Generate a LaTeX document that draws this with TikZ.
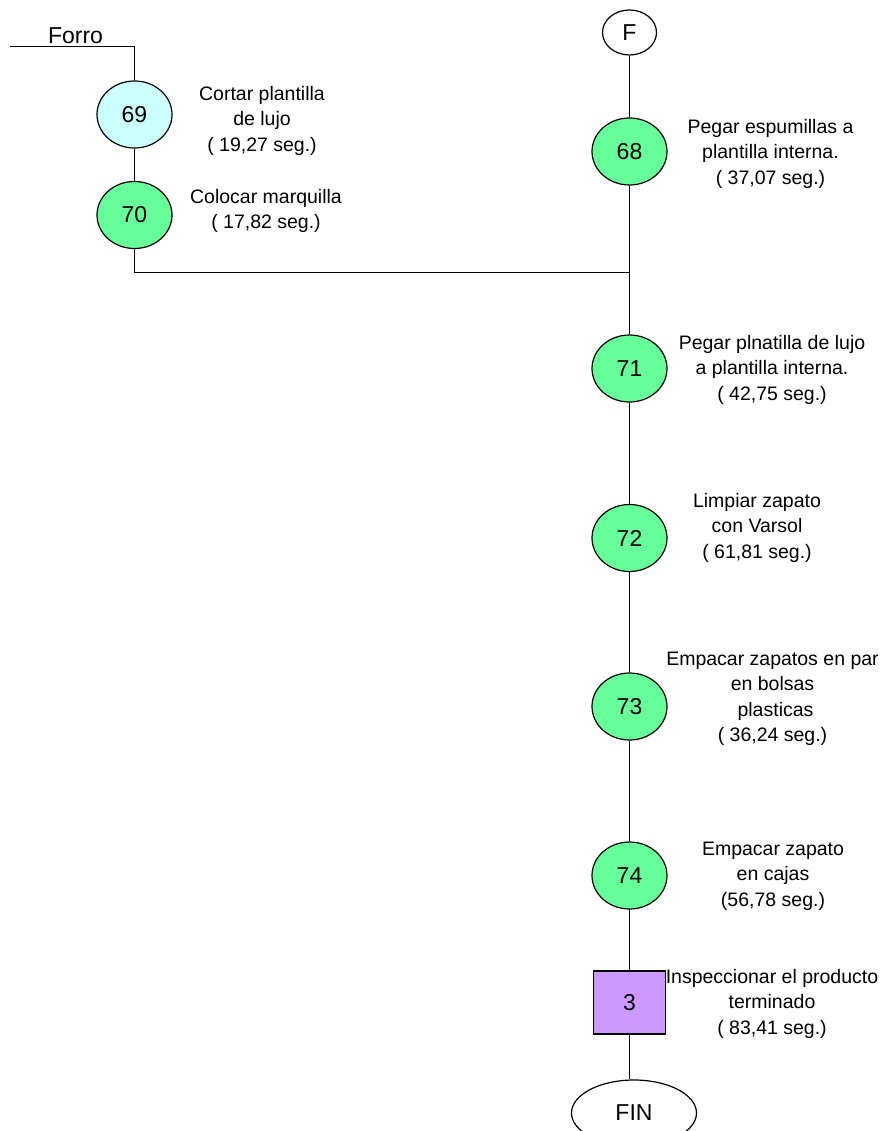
\documentclass[tikz,border=0pt]{standalone}
\usepackage{fontspec}
\setmainfont{Liberation Sans}
\usetikzlibrary{shapes.geometric}
\definecolor{opgreen}{HTML}{66FF99}
\definecolor{opcyan}{HTML}{CCFFFF}
\definecolor{inspurple}{HTML}{CC99FF}
\tikzset{
  flow/.style={line width=1.2pt, draw=black},
  opnode/.style={ellipse, draw=black, line width=1.2pt, fill=opgreen,
    minimum width=75pt, minimum height=67pt, inner sep=0pt,
    font=\fontsize{23}{27}\selectfont},
  termnode/.style={ellipse, draw=black, line width=1.2pt, fill=white,
    inner sep=0pt, font=\fontsize{23}{27}\selectfont},
  insnode/.style={rectangle, draw=black, line width=1.2pt, fill=inspurple,
    minimum width=72pt, minimum height=63pt, inner sep=0pt,
    font=\fontsize{23}{27}\selectfont},
  desc/.style={align=center, anchor=north, inner sep=0pt,
    font=\fontsize{19.5}{25.5}\selectfont}
}
\begin{document}
\begin{tikzpicture}[x=1pt,y=-1pt]
\useasboundingbox (0,0) rectangle (895,1131);

% left branch (Forro)
\coordinate (forroL) at (10,46.7);
\coordinate (forroC) at (134.5,46.7);
\node[anchor=base, inner sep=0pt, font=\fontsize{23}{27}\selectfont] (forro) at (75.5,44) {Forro};
\node[opnode, fill=opcyan] (n69) at (134.5,114.5) {69};
\node[opnode] (n70) at (134.5,215) {70};
\node[desc] (d69) at (262,82.15) {\strut Cortar plantilla\\de lujo\\( 19,27 seg.)};
\node[desc] (d70) at (266,185.15) {\strut Colocar marquilla\\( 17,82 seg.)};

% main line
\node[termnode, minimum width=54pt, minimum height=45pt] (F) at (629.5,32.5) {F};
\node[opnode] (n68) at (629.5,151.5) {68};
\coordinate (join) at (629.5,272.5);
\node[opnode] (n71) at (629.5,368.5) {71};
\node[opnode] (n72) at (629.5,538) {72};
\node[opnode] (n73) at (629.5,706.5) {73};
\node[opnode] (n74) at (629.5,875.5) {74};
\node[insnode] (b3) at (629.5,1002.5) {3};
\node[termnode, minimum width=125pt, minimum height=66pt] (fin) at (634,1113) {FIN};

\node[desc] (d68) at (770.5,115.15) {\strut Pegar espumillas a\\plantilla interna.\\( 37,07 seg.)};
\node[desc] (d71) at (772,331.15) {\strut Pegar plnatilla de lujo\\a plantilla interna.\\( 42,75 seg.)};
\node[desc] (d72) at (757,489.15) {\strut Limpiar zapato\\con Varsol\\( 61,81 seg.)};
\node[desc] (d73) at (772.5,647.15) {\strut Empacar zapatos en par\\en bolsas\\\hspace*{6pt}plasticas\\( 36,24 seg.)};
\node[desc] (d74) at (773,837.15) {\strut Empacar zapato\\en cajas\\(56,78 seg.)};
\node[desc] (d3) at (772,965.15) {\strut Inspeccionar el producto\\terminado\\( 83,41 seg.)};

% connectors
\draw[flow] (forroL) -- (forroC) -- (n69);
\draw[flow] (n69) -- (n70);
\draw[flow] (n70.south) |- (join);
\draw[flow] (F) -- (n68);
\draw[flow] (n68) -- (join) -- (n71);
\draw[flow] (n71) -- (n72);
\draw[flow] (n72) -- (n73);
\draw[flow] (n73) -- (n74);
\draw[flow] (n74) -- (b3);
\draw[flow] (b3.south) -- (b3.south |- fin.north);
\end{tikzpicture}
\end{document}
